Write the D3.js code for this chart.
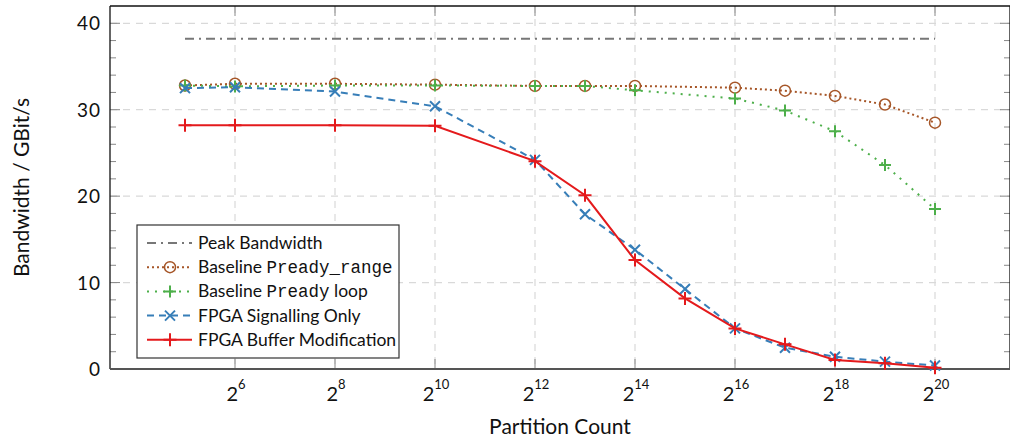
<!DOCTYPE html>
<html>
<head>
<meta charset="utf-8">
<script src="https://cdn.jsdelivr.net/npm/d3@7"></script>
<style>
  body { margin: 0; background: #fff; }
  svg { display: block; font-family: Lato, "Open Sans", sans-serif; }
  .mono { font-family: "Liberation Mono", "DejaVu Sans Mono", monospace; }
</style>
</head>
<body>
<svg id="chart" width="1010" height="437"></svg>
<script>
// x values are exponents of 2
var peakX = [5, 20];
var peakY = [38.2, 38.2];

var baseX = [5, 6, 8, 10, 12, 13, 14, 16, 17, 18, 19, 20];
var rangeY = [32.8, 33.0, 33.0, 32.9, 32.75, 32.75, 32.75, 32.55, 32.2, 31.6, 30.6, 28.5];
var loopY = [32.8, 32.7, 32.8, 32.8, 32.75, 32.75, 32.25, 31.3, 29.9, 27.5, 23.6, 18.5];

var fpgaX = [5, 6, 8, 10, 12, 13, 14, 15, 16, 17, 18, 19, 20];
var signalY = [32.5, 32.6, 32.1, 30.4, 24.2, 17.9, 13.8, 9.25, 4.7, 2.46, 1.42, 0.85, 0.4];
var bufferY = [28.2, 28.2, 28.2, 28.15, 24.05, 20.1, 12.6, 8.17, 4.7, 2.85, 1.04, 0.66, 0.15];

var xTickExp = [6, 8, 10, 12, 14, 16, 18, 20];
var yTicks = [0, 10, 20, 30, 40];
var yMinor = [2, 4, 6, 8, 12, 14, 16, 18, 22, 24, 26, 28, 32, 34, 36, 38];

var legendLabels = ["Peak Bandwidth", "Baseline Pready_range", "Baseline Pready loop",
  "FPGA Signalling Only", "FPGA Buffer Modification"];

var plotL = 110, plotR = 1010, plotT = 6, plotB = 369;

var svg = d3.select("#chart");

var x = d3.scaleLog().base(2)
  .domain([Math.pow(2, 3.5), Math.pow(2, 21.5)])
  .range([plotL, plotR]);
var y = d3.scaleLinear().domain([0, 42]).range([plotB, plotT]);

function px(e) { return x(Math.pow(2, e)); }

// grid
svg.append("g").selectAll("line").data(xTickExp).enter().append("line")
  .attr("x1", d => px(d)).attr("x2", d => px(d))
  .attr("y1", plotT).attr("y2", plotB)
  .attr("stroke", "#d9d9d9").attr("stroke-width", 1.2)
  .attr("stroke-dasharray", "7,6");
svg.append("g").selectAll("line").data(yTicks.filter(d => d > 0)).enter().append("line")
  .attr("x1", plotL).attr("x2", plotR)
  .attr("y1", d => y(d)).attr("y2", d => y(d))
  .attr("stroke", "#d9d9d9").attr("stroke-width", 1.2)
  .attr("stroke-dasharray", "7,6");

// ticks (inward)
var tk = svg.append("g").attr("stroke", "#888").attr("stroke-width", 1);
xTickExp.forEach(function(e) {
  tk.append("line").attr("x1", px(e)).attr("x2", px(e)).attr("y1", plotB).attr("y2", plotB - 10);
  tk.append("line").attr("x1", px(e)).attr("x2", px(e)).attr("y1", plotT).attr("y2", plotT + 10);
});
yTicks.forEach(function(v) {
  tk.append("line").attr("x1", plotL).attr("x2", plotL + 10).attr("y1", y(v)).attr("y2", y(v));
  tk.append("line").attr("x1", plotR).attr("x2", plotR - 10).attr("y1", y(v)).attr("y2", y(v));
});
yMinor.forEach(function(v) {
  tk.append("line").attr("x1", plotL).attr("x2", plotL + 6).attr("y1", y(v)).attr("y2", y(v));
  tk.append("line").attr("x1", plotR).attr("x2", plotR - 6).attr("y1", y(v)).attr("y2", y(v));
});

// frame
svg.append("line").attr("x1", plotL).attr("x2", plotR).attr("y1", plotT).attr("y2", plotT)
  .attr("stroke", "#111").attr("stroke-width", 1.3);
svg.append("line").attr("x1", plotL).attr("x2", plotL).attr("y1", plotT).attr("y2", plotB)
  .attr("stroke", "#111").attr("stroke-width", 1.3);
svg.append("line").attr("x1", plotR).attr("x2", plotR).attr("y1", plotT).attr("y2", plotB)
  .attr("stroke", "#111").attr("stroke-width", 1.3);
svg.append("line").attr("x1", plotL).attr("x2", plotR).attr("y1", plotB).attr("y2", plotB)
  .attr("stroke", "#555").attr("stroke-width", 1.8);

// tick labels
svg.append("g").selectAll("text").data(yTicks).enter().append("text")
  .attr("x", 101).attr("y", d => y(d) + 7)
  .attr("text-anchor", "end")
  .style("font-size", "19px").style("letter-spacing", "1px").attr("fill", "#111")
  .text(d => d);

var xl = svg.append("g").selectAll("text").data(xTickExp).enter().append("text")
  .attr("x", d => px(d) + 1).attr("y", 401)
  .attr("text-anchor", "middle").attr("fill", "#111");
xl.append("tspan").style("font-size", "20px").text("2");
xl.append("tspan").attr("dy", -12).style("font-size", "13px").text(d => d);

// axis titles
svg.append("text").attr("x", (plotL + plotR) / 2).attr("y", 434)
  .attr("text-anchor", "middle").style("font-size", "21px").attr("fill", "#111")
  .text("Partition Count");
svg.append("text").attr("transform", "translate(29," + ((plotT + plotB) / 2) + ") rotate(-90)")
  .attr("text-anchor", "middle").style("font-size", "21px").attr("fill", "#111")
  .text("Bandwidth / GBit/s");

// series
var line = d3.line().x(d => px(d[0])).y(d => y(d[1]));

var series = [
  { xs: peakX, ys: peakY, color: "#777777", dash: "9,5,2,5", marker: "none" },
  { xs: baseX, ys: rangeY, color: "#a65628", dash: "2,3", marker: "circle" },
  { xs: baseX, ys: loopY, color: "#4daf4a", dash: "2,6", marker: "plus" },
  { xs: fpgaX, ys: signalY, color: "#377eb8", dash: "7,5", marker: "cross" },
  { xs: fpgaX, ys: bufferY, color: "#e41a1c", dash: null, marker: "plus2" }
];

function drawMarker(g, type, cx, cy, color) {
  if (type === "circle") {
    g.append("circle").attr("cx", cx).attr("cy", cy).attr("r", 5.5)
      .attr("fill", "none").attr("stroke", color).attr("stroke-width", 1.5);
  } else if (type === "plus" || type === "plus2") {
    var h = type === "plus" ? 6 : 6.5;
    g.append("path").attr("d", "M" + (cx - h) + "," + cy + "H" + (cx + h) + "M" + cx + "," + (cy - h) + "V" + (cy + h))
      .attr("stroke", color).attr("stroke-width", 2).attr("fill", "none");
  } else if (type === "cross") {
    var c = 5;
    g.append("path").attr("d", "M" + (cx - c) + "," + (cy - c) + "L" + (cx + c) + "," + (cy + c) +
      "M" + (cx - c) + "," + (cy + c) + "L" + (cx + c) + "," + (cy - c))
      .attr("stroke", color).attr("stroke-width", 2).attr("fill", "none");
  }
}

series.forEach(function(s) {
  var pts = s.xs.map((e, i) => [e, s.ys[i]]);
  var g = svg.append("g");
  g.append("path").datum(pts).attr("d", line)
    .attr("fill", "none").attr("stroke", s.color).attr("stroke-width", 2)
    .attr("stroke-dasharray", s.dash);
  pts.forEach(p => drawMarker(g, s.marker, px(p[0]), y(p[1]), s.color));
});

// legend
var lg = svg.append("g");
lg.append("rect").attr("x", 137).attr("y", 225).attr("width", 262).attr("height", 133)
  .attr("fill", "#fff").attr("stroke", "#333").attr("stroke-width", 1.2);
series.forEach(function(s, i) {
  var ly = 243 + i * 24.2;
  lg.append("line").attr("x1", 147).attr("x2", 192).attr("y1", ly).attr("y2", ly)
    .attr("stroke", s.color).attr("stroke-width", 2).attr("stroke-dasharray", s.dash);
  drawMarker(lg, s.marker, 170, ly, s.color);
  var t = lg.append("text").attr("x", 198).attr("y", ly + 6)
    .style("font-size", "17.5px").attr("fill", "#111");
  var lab = legendLabels[i];
  if (lab.indexOf("Pready") >= 0) {
    var parts = lab.split("Pready");
    var under = parts[1].indexOf("_") === 0;
    t.append("tspan").text(parts[0]);
    t.append("tspan").attr("class", "mono").style("font-size", "17.5px").text("Pready" + (under ? parts[1] : ""));
    if (!under) t.append("tspan").text(parts[1]);
  } else {
    t.text(lab);
  }
});
</script>
</body>
</html>
